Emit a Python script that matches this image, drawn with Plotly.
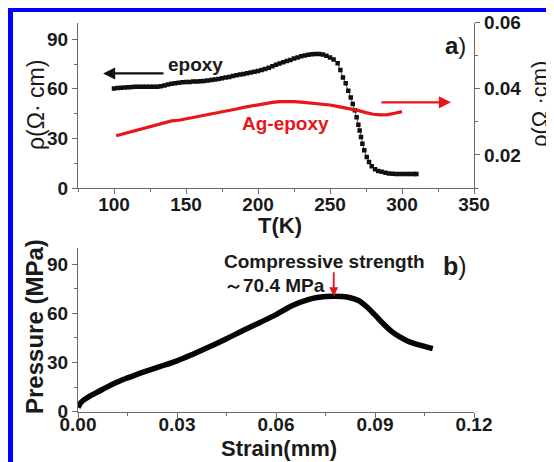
import plotly.graph_objects as go

# ---------------- data ----------------
# panel a) epoxy resistivity (left axis, Ohm cm) vs temperature (K)
epoxy_T = [100, 102.5, 105, 107.5, 110, 112.5, 115, 117.5, 120, 122.5, 125, 127.5, 130, 132.5,
           135, 137.5, 140, 142.5, 145, 147.5, 150, 152.5, 155, 157.5, 160, 162.5, 165, 167.5,
           170, 172.5, 175, 177.5, 180, 182.5, 185, 187.5, 190, 192.5, 195, 197.5, 200, 202.5,
           205, 207.5, 210, 212.5, 215, 217.5, 220, 222.5, 225, 227.5, 230, 232.5, 235, 237.5,
           240, 242.5, 245, 247.5, 250, 252.5,
           255.3, 257.2, 259.0, 260.9, 262.7, 264.4, 265.8, 267.2, 268.5, 269.7, 270.6, 271.5,
           272.5, 273.8, 275.5, 277.1, 279.0, 281.3, 283.5, 285.9, 288.5, 291, 293.5, 296,
           298.5, 301, 303.5, 306, 308.5, 310]
epoxy_rho = [60.2, 60.5, 60.6, 60.8, 61.0, 61.1, 61.2, 61.3, 61.3, 61.2, 61.3, 61.2, 61.3, 61.5,
             62.0, 62.6, 63.0, 63.4, 63.7, 63.9, 64.1, 64.2, 64.4, 64.5, 64.6, 64.8, 65.0, 65.3,
             65.7, 66.0, 66.4, 66.8, 67.2, 67.7, 68.2, 68.7, 69.0, 69.4, 69.8, 70.3, 70.8, 71.4,
             72.0, 72.7, 73.6, 74.5, 75.3, 76.1, 76.8, 77.5, 78.3, 79.0, 79.7, 80.2, 80.6, 80.9,
             81.1, 81.1, 80.7, 80.0, 79.0, 77.8,
             75.4, 71.4, 66.8, 63.4, 58.8, 54.8, 50.8, 47.0, 42.8, 38.2, 34.8, 30.8,
             26.8, 22.8, 18.8, 15.8, 13.2, 11.4, 10.3, 9.8, 9.2, 8.8, 8.6, 8.5,
             8.4, 8.4, 8.4, 8.4, 8.4, 8.4]

# panel a) Ag-epoxy resistivity (right axis, Ohm cm)
ag_T = [101.5, 105, 110, 115, 120, 125, 130, 135, 140, 145, 150, 155, 160, 165, 170, 175, 180,
        185, 190, 195, 200, 205, 210, 215, 220, 225, 230, 235, 240, 245, 250, 255, 260, 265,
        270, 275, 280, 285, 290, 295, 300]
ag_rho = [0.0258, 0.0262, 0.0268, 0.0274, 0.0280, 0.0286, 0.0292, 0.0297, 0.0303, 0.0305,
          0.0309, 0.0313, 0.0318, 0.0322, 0.0327, 0.0331, 0.0335, 0.0339, 0.0344, 0.0348,
          0.0353, 0.0356, 0.0359, 0.0361, 0.0362, 0.0361, 0.0360, 0.0358, 0.0356, 0.0354,
          0.0351, 0.0347, 0.0343, 0.0339, 0.0334, 0.0328, 0.0323, 0.0321, 0.0322, 0.0326,
          0.0331]

# panel b) compression test
strain = [0.0, 0.0005, 0.001, 0.002, 0.003, 0.005, 0.0075, 0.010, 0.0125, 0.015, 0.0175,
          0.020, 0.025, 0.030, 0.035, 0.040, 0.045, 0.050, 0.055, 0.060, 0.065, 0.070,
          0.0725, 0.075, 0.0775, 0.080, 0.0825, 0.085, 0.0875, 0.090, 0.0925, 0.095,
          0.0975, 0.100, 0.1025, 0.105, 0.1075]
pressure = [2.5, 4.5, 5.8, 7.5, 8.8, 11.0, 13.7, 16.3, 18.6, 20.6, 22.5,
            24.3, 27.6, 31.0, 35.2, 39.7, 44.5, 49.5, 54.3, 59.2, 64.8, 68.5,
            69.6, 70.2, 70.4, 70.2, 69.5, 67.8, 64.0, 59.0, 53.6, 49.0,
            45.6, 43.0, 41.2, 39.8, 38.5]

T_ticks = [100, 150, 200, 250, 300, 350]
rho_ticks = [0, 30, 60, 90]
rho2_ticks = [0.02, 0.04, 0.06]
strain_ticks = [0.00, 0.03, 0.06, 0.09, 0.12]
p_ticks = [0, 30, 60, 90]
peak_strain, peak_p = 0.0775, 70.4

# ---------------- figure ----------------
W, H = 554, 462
OX, OY = 8, 8   # page body offset of the plot div


def px(x):
    return (x - OX) / W


def py(y):
    return 1 - (y - OY) / H


FONT = "Liberation Sans, Arial, sans-serif"
RED = "#e8151b"
AX = "#6a6a6a"
TXT = "#1a1a1a"

xa = [px(78), px(474)]
top_dom = [py(188), py(22.7)]
bot_dom = [py(411.7), py(247.7)]

fig = go.Figure()
fig.add_trace(go.Scatter(x=epoxy_T, y=epoxy_rho, mode="lines+markers", xaxis="x", yaxis="y",
                         line=dict(color="#555555", width=1),
                         marker=dict(symbol="square", size=4.5, color="#111111"),
                         name="epoxy", showlegend=False))
fig.add_trace(go.Scatter(x=ag_T, y=ag_rho, mode="lines", xaxis="x", yaxis="y2",
                         line=dict(color=RED, width=3.2), name="Ag-epoxy", showlegend=False))
fig.add_trace(go.Scatter(x=strain, y=pressure, mode="lines", xaxis="x2", yaxis="y3",
                         line=dict(color="#050505", width=5.5, shape="spline"),
                         name="pressure", showlegend=False))

tickf = dict(family=FONT, size=19, color=TXT, weight="bold")
common = dict(showline=True, linecolor=AX, linewidth=1.3, ticks="outside", ticklen=5,
              tickwidth=1.2, tickcolor=AX, showgrid=False, zeroline=False, tickfont=tickf,
              automargin=False)
mirror_common = dict(showline=True, linecolor=AX, linewidth=1.3, ticks="inside", ticklen=5,
                     tickwidth=1.2, tickcolor=AX, showgrid=False, zeroline=False,
                     showticklabels=False, automargin=False)

fig.update_layout(
    width=W, height=H, margin=dict(l=0, r=0, t=0, b=0, autoexpand=False),
    paper_bgcolor="white", plot_bgcolor="white", showlegend=False,
    xaxis=dict(domain=xa, anchor="y", range=[75, 350], tickvals=T_ticks, ticklabelstandoff=-6,
               minor=dict(dtick=25, tick0=0, ticklen=3, tickcolor=AX, ticks="outside"), **common),
    xaxis3=dict(overlaying="x", anchor="y", side="top", range=[75, 350], tickvals=T_ticks,
                minor=dict(dtick=25, tick0=0, ticklen=3, tickcolor=AX, ticks="inside"),
                **mirror_common),
    yaxis=dict(domain=top_dom, anchor="x", range=[0, 100], tickvals=rho_ticks,
               minor=dict(dtick=15, tick0=0, ticklen=3, tickcolor=AX, ticks="outside"), **common),
    yaxis2=dict(overlaying="y", anchor="x", side="right", range=[0.01, 0.06],
                tickvals=rho2_ticks, tickformat=".2f",
                minor=dict(dtick=0.01, tick0=0, ticklen=3, tickcolor=AX, ticks="outside"), **common),
    xaxis2=dict(domain=xa, anchor="y3", range=[0, 0.12], tickvals=strain_ticks, tickformat=".2f",
                ticklabelstandoff=-10,
                minor=dict(dtick=0.015, tick0=0, ticklen=3, tickcolor=AX, ticks="outside"), **common),
    xaxis4=dict(overlaying="x2", anchor="y3", side="top", range=[0, 0.12], tickvals=strain_ticks,
                minor=dict(dtick=0.015, tick0=0, ticklen=3, tickcolor=AX, ticks="inside"),
                **mirror_common),
    yaxis3=dict(domain=bot_dom, anchor="x2", range=[0, 100], tickvals=p_ticks,
                minor=dict(dtick=15, tick0=0, ticklen=3, tickcolor=AX, ticks="outside"), **common),
    yaxis4=dict(overlaying="y3", anchor="x2", side="right", range=[0, 100], tickvals=p_ticks,
                minor=dict(dtick=15, tick0=0, ticklen=3, tickcolor=AX, ticks="inside"),
                **mirror_common),
)

# blue frame (top and left edges)
fig.add_shape(type="rect", xref="paper", yref="paper", x0=px(8), x1=1.0, y0=py(12), y1=py(8),
              fillcolor="#0000ff", line=dict(width=0), layer="above")
fig.add_shape(type="rect", xref="paper", yref="paper", x0=px(8), x1=px(13), y0=0, y1=py(8),
              fillcolor="#0000ff", line=dict(width=0), layer="above")


def ptext(text, x, y, size, color=TXT, angle=0, xanchor="center", weight="bold"):
    fig.add_annotation(text=text, xref="paper", yref="paper", x=px(x), y=py(y),
                       xanchor=xanchor, yanchor="middle", showarrow=False, textangle=angle,
                       font=dict(family=FONT, size=size, color=color, weight=weight))


# axis titles
ptext("T(K)", 280, 225, 22)
ptext("Strain(mm)", 279, 448, 22)
ptext("ρ(Ω· cm)", 36, 105, 23, weight="normal", angle=-90)
ptext("ρ(Ω ·cm)", 539, 104, 22, weight="normal", angle=-90)
ptext("Pressure (MPa)", 34, 327, 24, angle=-90)

# panel labels
ptext("<b>a</b>)", 456, 46, 24, weight="normal")
ptext("<b>b</b>)", 455, 266, 25, weight="normal")

# series labels
ptext("epoxy", 195, 64, 19)
ptext("Ag-epoxy", 285, 124, 19, color=RED)
ptext("Compressive strength", 222, 261, 19, xanchor="left")
ptext("～70.4 MPa", 222, 285, 19, xanchor="left")

# arrows
fig.add_annotation(x=92.4, y=69.3, ax=135.4, ay=69.3, xref="x", yref="y", axref="x", ayref="y",
                   showarrow=True, arrowhead=2, arrowsize=1.1, arrowwidth=2.2,
                   arrowcolor="#111111", text="")
fig.add_annotation(x=334, y=0.0359, ax=284.7, ay=0.0359, xref="x", yref="y2", axref="x",
                   ayref="y2", showarrow=True, arrowhead=2, arrowsize=1.1, arrowwidth=2.2,
                   arrowcolor=RED, text="")
fig.add_annotation(x=peak_strain, y=peak_p, ax=peak_strain, ay=86, xref="x2", yref="y3",
                   axref="x2", ayref="y3", showarrow=True, arrowhead=2, arrowsize=1.0,
                   arrowwidth=1.8, arrowcolor=RED, text="")

fig.write_html("out.html")
